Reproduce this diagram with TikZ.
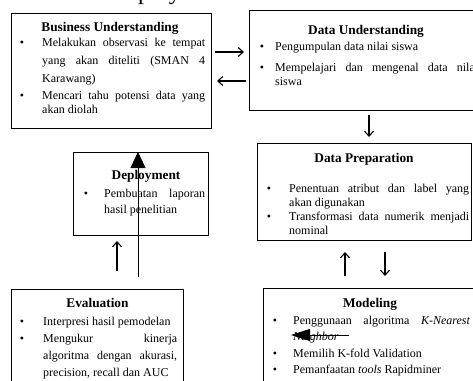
\documentclass[tikz,border=0pt]{standalone}
\usepackage{fontspec}
\setmainfont{Liberation Serif}
\usetikzlibrary{arrows.meta}
\hyphenpenalty=10000
\exhyphenpenalty=10000
\newcommand\fs{\rule{0pt}{10pt}}
\begin{document}
\begin{tikzpicture}[x=1pt,y=-1pt,
  box/.style={draw, line width=1.3pt, inner sep=0, anchor=north west},
  ttl/.style={font=\fontsize{13.3}{15}\selectfont\bfseries, anchor=base, inner sep=0},
  bul/.style={font=\fontsize{12}{14}\selectfont, anchor=base, inner sep=0},
  itm/.style={anchor=north west, inner sep=0, align=justify, font=\fontsize{12}{#1}\selectfont},
  itm/.default=14,
  arr/.style={line width=1.1pt, -{Straight Barb[length=5pt,width=9pt]}},
  bigarr/.style={line width=0.9pt, -{Triangle[length=16pt,width=15pt]}},
  midarr/.style={line width=0.9pt, -{Triangle[length=19pt,width=12pt]}}]
\useasboundingbox (0,0) rectangle (473,380);

% cut-off large heading at top
\node[anchor=base west, font=\fontsize{24}{28}\selectfont, inner sep=0] (bigtxt) at (110,0) {Deployment};

% boxes
\node[box, minimum width=200pt, minimum height=115pt] (bu) at (11,13) {};
\node[box, minimum width=235pt, minimum height=100pt] (du) at (249,10) {};
\node[box, minimum width=214pt, minimum height=97pt] (dp) at (257,143) {};
\node[box, minimum width=135pt, minimum height=83pt] (dep) at (73,152) {};
\node[box, minimum width=172pt, minimum height=110pt] (ev) at (11,289) {};
\node[box, minimum width=220pt, minimum height=110pt] (mo) at (263,288) {};

% Business Understanding
\node[ttl] (bu-t) at (110,31) {Business Understanding};
\node[bul] (bu-b1) at (22,46) {\textbullet};
\node[itm=18, text width=163pt] (bu-i1) at (42,36) {\fs Melakukan observasi ke tempat\linebreak yang akan diteliti (SMAN 4\linebreak Karawang)};
\node[bul] (bu-b2) at (22,99) {\textbullet};
\node[itm, text width=163pt] (bu-i2) at (42,89) {\fs Mencari tahu potensi data yang\linebreak akan diolah};

% Data Understanding
\node[ttl] (du-t) at (366,34) {Data Understanding};
\node[bul] (du-b1) at (262,50) {\textbullet};
\node[itm, text width=203pt] (du-i1) at (275,40) {\fs Pengumpulan data nilai siswa};
\node[bul] (du-b2) at (262,71) {\textbullet};
\node[itm, text width=203pt] (du-i2) at (275,61) {\fs Mempelajari dan mengenal data nilai\linebreak siswa};

% Data Preparation
\node[ttl] (dp-t) at (364,162) {Data Preparation};
\node[bul] (dp-b1) at (269,192) {\textbullet};
\node[itm, text width=180pt] (dp-i1) at (289,182) {\fs Penentuan atribut dan label yang\linebreak akan digunakan};
\node[bul] (dp-b2) at (269,220) {\textbullet};
\node[itm, text width=180pt] (dp-i2) at (289,210) {\fs Transformasi data numerik menjadi\linebreak nominal};

% Deployment
\node[ttl] (dep-t) at (146,179) {Deployment};
\node[bul] (dep-b1) at (86,197) {\textbullet};
\node[itm=16, text width=101pt] (dep-i1) at (104,187) {\fs Pembuatan laporan\linebreak hasil penelitian};

% Evaluation
\node[ttl] (ev-t) at (97.5,307) {Evaluation};
\node[bul] (ev-b1) at (22,325) {\textbullet};
\node[itm, text width=134pt] (ev-i1) at (43,315) {\fs Interpresi hasil pemodelan};
\node[bul] (ev-b2) at (22,342) {\textbullet};
\node[itm=17, text width=134pt] (ev-i2) at (43,332) {\fs Mengukur kinerja\linebreak algoritma dengan akurasi,\linebreak precision, recall dan AUC};

% Modeling
\node[ttl] (mo-t) at (370,307) {Modeling};
\node[bul] (mo-b1) at (275,324) {\textbullet};
\node[itm=16, text width=177pt] (mo-i1) at (293,314) {\fs Penggunaan algoritma \textit{K-Nearest}\linebreak \textit{Neighbor}};
\node[bul] (mo-b2) at (275,357) {\textbullet};
\node[itm, text width=177pt] (mo-i2) at (293,347) {\fs Memilih K-fold Validation};
\node[bul] (mo-b3) at (275,373) {\textbullet};
\node[itm, text width=177pt] (mo-i3) at (293,363) {\fs Pemanfaatan \textit{tools} Rapidminer};

% connector end points
\coordinate (a1s) at (215,52);  \coordinate (a1e) at (244,52);
\coordinate (a2s) at (246,81);  \coordinate (a2e) at (217,81);
\coordinate (a3s) at (369,115); \coordinate (a3e) at (369,137);
\coordinate (a4s) at (345,276); \coordinate (a4e) at (345,252);
\coordinate (a5s) at (385,252); \coordinate (a5e) at (385,276);
\coordinate (a6s) at (117,271); \coordinate (a6e) at (117,241);
\coordinate (a7s) at (138,277); \coordinate (a7e) at (138,152);
\coordinate (a8s) at (349,335); \coordinate (a8e) at (291,335);

\draw[arr] (a1s) -- (a1e);
\draw[arr] (a2s) -- (a2e);
\draw[arr] (a3s) -- (a3e);
\draw[arr] (a4s) -- (a4e);
\draw[arr] (a5s) -- (a5e);
\draw[arr] (a6s) -- (a6e);
\draw[bigarr] (a7s) -- (a7e);
\draw[midarr] (a8s) -- (a8e);
\end{tikzpicture}
\end{document}
